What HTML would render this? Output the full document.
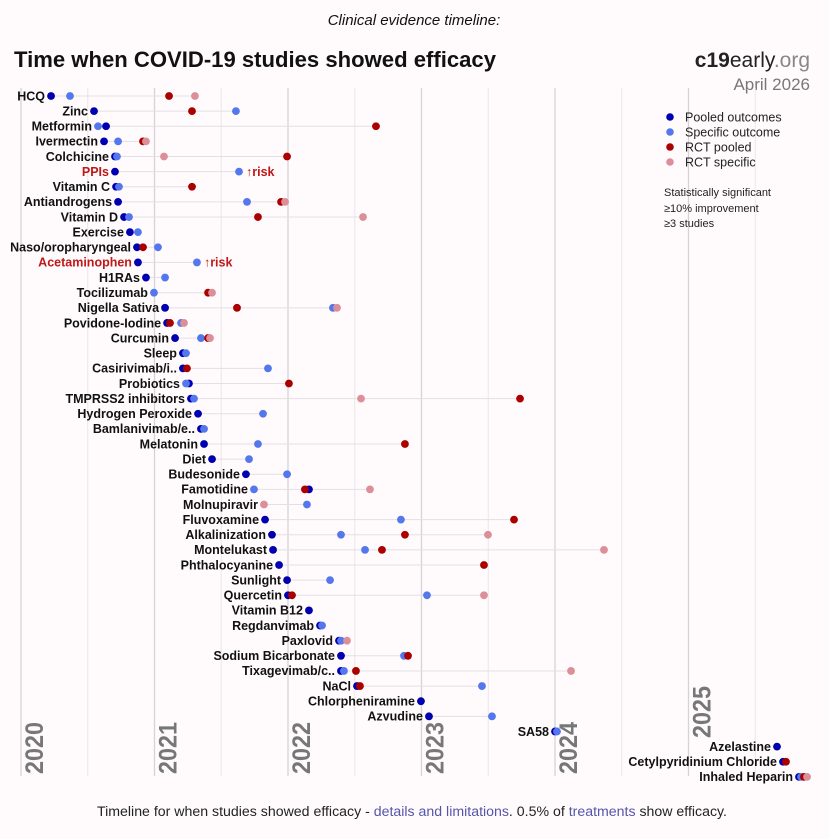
<!DOCTYPE html>
<html><head><meta charset="utf-8">
<style>
html,body{margin:0;padding:0;background:#fffbfc;}
body{width:829px;height:839px;overflow:hidden;font-family:"Liberation Sans",sans-serif;}
svg{display:block;}
</style></head>
<body>
<svg id="chart" width="829" height="839" viewBox="0 0 829 839" xmlns="http://www.w3.org/2000/svg">
<rect x="0" y="0" width="829" height="839" fill="#fffbfc"/>
<text x="414" y="25" text-anchor="middle" font-size="15" font-style="italic" fill="#111">Clinical evidence timeline:</text>
<text x="14" y="67" font-size="22" font-weight="bold" fill="#111" textLength="482" lengthAdjust="spacingAndGlyphs">Time when COVID-19 studies showed efficacy</text>
<text x="810" y="67" text-anchor="end" font-size="21" fill="#222"><tspan font-weight="bold">c19</tspan><tspan>early</tspan><tspan fill="#888">.org</tspan></text>
<text x="810" y="90" text-anchor="end" font-size="17" fill="#777">April 2026</text>
<g id="grid"></g>
<g id="rows"></g>
<g font-size="12.5" fill="#222">
<circle cx="670" cy="117" r="3.8" fill="#0000b0"/>
<text x="685" y="121.5">Pooled outcomes</text>
<circle cx="670" cy="132" r="3.8" fill="#5577ee"/>
<text x="685" y="136.5">Specific outcome</text>
<circle cx="670" cy="147" r="3.8" fill="#aa0000"/>
<text x="685" y="151.5">RCT pooled</text>
<circle cx="670" cy="162" r="3.8" fill="#dd8f99"/>
<text x="685" y="166.5">RCT specific</text>
<text x="664" y="196" font-size="11">Statistically significant</text>
<text x="664" y="212" font-size="11">≥10% improvement</text>
<text x="664" y="227" font-size="11">≥3 studies</text>
</g>
<text x="412" y="816" text-anchor="middle" font-size="13.5" fill="#222" textLength="630" lengthAdjust="spacingAndGlyphs">Timeline for when studies showed efficacy - <tspan fill="#5555aa">details and limitations</tspan>. 0.5% of <tspan fill="#5555aa">treatments</tspan> show efficacy.</text>
</svg>
<script>
const names=["HCQ","Zinc","Metformin","Ivermectin","Colchicine","PPIs","Vitamin C","Antiandrogens","Vitamin D","Exercise","Naso/oropharyngeal","Acetaminophen","H1RAs","Tocilizumab","Nigella Sativa","Povidone-Iodine","Curcumin","Sleep","Casirivimab/i..","Probiotics","TMPRSS2 inhibitors","Hydrogen Peroxide","Bamlanivimab/e..","Melatonin","Diet","Budesonide","Famotidine","Molnupiravir","Fluvoxamine","Alkalinization","Montelukast","Phthalocyanine","Sunlight","Quercetin","Vitamin B12","Regdanvimab","Paxlovid","Sodium Bicarbonate","Tixagevimab/c..","NaCl","Chlorpheniramine","Azvudine","SA58","Azelastine","Cetylpyridinium Chloride","Inhaled Heparin"];
const pooled=[2020.225,2020.547,2020.637,2020.622,2020.704,2020.704,2020.712,2020.727,2020.772,2020.816,2020.869,2020.876,2020.936,null,2021.079,2021.094,2021.154,2021.213,2021.213,2021.258,2021.273,2021.326,2021.348,2021.371,2021.431,2021.685,2022.157,null,2021.828,2021.880,2021.888,2021.933,2021.993,2022.0,2022.157,2022.240,2022.382,2022.397,2022.397,2022.517,2022.996,2023.056,2024.0,2025.663,2025.708,2025.828];
const specific=[2020.367,2021.610,2020.577,2020.727,2020.719,2021.633,2020.734,2021.693,2020.809,2020.876,2021.026,2021.318,2021.079,2020.996,2022.337,2021.199,2021.348,2021.236,2021.850,2021.236,2021.296,2021.813,2021.371,2021.775,2021.708,2021.993,2021.745,2022.142,2022.846,2022.397,2022.577,null,2022.315,2023.041,null,2022.255,2022.397,2022.869,2022.419,2023.453,null,2023.528,2024.015,null,null,2025.843];
const rctPooled=[2021.109,2021.281,2022.659,2020.914,2021.993,null,2021.281,2021.948,2021.775,null,2020.914,null,null,2021.401,2021.618,2021.116,2021.401,null,2021.243,2022.007,2023.738,null,null,2022.876,null,null,2022.127,null,2023.693,2022.876,2022.704,2023.468,null,2022.030,null,null,null,2022.899,2022.509,2022.539,null,null,null,null,2025.730,2025.865];
const rctSpecific=[2021.303,null,null,2020.936,2021.071,null,null,2021.978,2022.562,null,null,null,null,2021.431,2022.367,2021.221,2021.416,null,null,null,2022.547,null,null,null,null,null,2022.614,2021.820,null,2023.498,2024.367,null,null,2023.468,null,null,2022.442,null,2024.120,null,null,null,null,null,null,2025.888];
const riskFlags=["PPIs","Acetaminophen"];
const yearTicks=["2020","2021","2022","2023","2024","2025"];

const NS="http://www.w3.org/2000/svg";
const X0=21, PX_PER_YEAR=133.5, Y0=96, ROW=15.13, GTOP=88, GBOT=776;
function xScale(v){return X0+(v-2020)*PX_PER_YEAR;}
function yScale(i){return Y0+i*ROW;}
function mk(tag,attrs,parent){const e=document.createElementNS(NS,tag);for(const k in attrs)e.setAttribute(k,attrs[k]);parent.appendChild(e);return e;}

const grid=document.getElementById('grid');
for(let h=0;h<yearTicks.length*2;h++){
  const yr=2020+h/2;
  const ln=mk('line',{x1:xScale(yr),x2:xScale(yr),y1:GTOP,y2:GBOT,stroke:h%2?'#ebe7ea':'#d6d3d6','stroke-width':h%2?1:1.3},grid);
  
  
}
yearTicks.forEach((t,i)=>{
  const x=xScale(+t)+22, y=(t==="2025")?738:GBOT-2;
  const tx=mk('text',{x:x,y:y,transform:`rotate(-90 ${x} ${y})`,'font-size':25,'font-weight':'bold','font-family':'"Liberation Sans Narrow","Liberation Sans",sans-serif',fill:'#777',textLength:52,lengthAdjust:'spacingAndGlyphs'},grid);
  tx.textContent=t;
  
  
});

const rows=document.getElementById('rows');
const series=[[pooled,'#0000b0','pooled'],[specific,'#5577ee','specific'],[rctPooled,'#aa0000','rct-pooled'],[rctSpecific,'#dd8f99','rct-specific']];
names.forEach((n,i)=>{
  const y=yScale(i);
  const vals=[pooled[i],specific[i],rctPooled[i],rctSpecific[i]].filter(v=>v!=null);
  const mn=Math.min(...vals), mx=Math.max(...vals);
  const g=mk('g',{},rows);
  
  
  const ln=mk('line',{x1:xScale(mn),x2:xScale(mx),y1:y,y2:y,stroke:'#e4dfe3','stroke-width':1},g);
  
  
  const risk=riskFlags.includes(n);
  const lb=mk('text',{x:xScale(mn)-6,y:y+4.3,'text-anchor':'end','font-size':12.5,'font-weight':'bold',fill:risk?'#c01818':'#111'},g);
  lb.textContent=n;
  
  
  series.forEach(([arr,col,key])=>{
    if(arr[i]==null)return;
    const c=mk('circle',{cx:xScale(arr[i]),cy:y,r:3.9,fill:col},g);
    
    
  });
  if(risk){
    const rt=mk('text',{x:xScale(mx)+7,y:y+4.3,'font-size':12.5,'font-weight':'bold',fill:'#c01818'},g);
    rt.textContent='↑risk';
    
    
  }
});
</script>
</body></html>
